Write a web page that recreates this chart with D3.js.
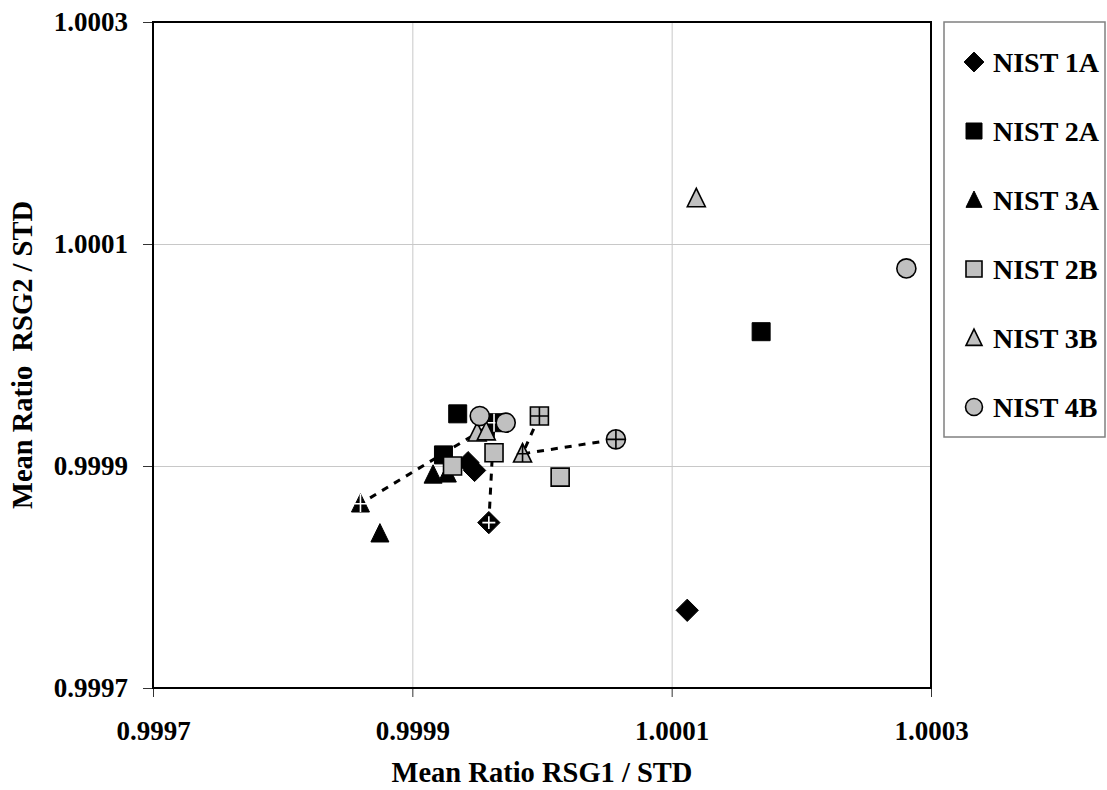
<!DOCTYPE html>
<html>
<head>
<meta charset="utf-8">
<script src="https://cdn.jsdelivr.net/npm/d3@7"></script>
<style>
  html, body { margin: 0; padding: 0; background: #fff; }
  svg text { font-family: "Times New Roman", "Liberation Serif", serif; font-weight: bold; fill: #000; }
</style>
</head>
<body>
<svg id="chart" width="1107" height="790"></svg>
<script>
// Axis ticks (shared by both axes)
const xTicks = [0.9997, 0.9999, 1.0001, 1.0003];
const yTicks = [0.9997, 0.9999, 1.0001, 1.0003];

const seriesNames = ["NIST 1A", "NIST 2A", "NIST 3A", "NIST 2B", "NIST 3B", "NIST 4B"];
const seriesShapes = ["diamond", "square", "triangle", "square", "triangle", "circle"];
const seriesFills = ["#000000", "#000000", "#000000", "#c0c0c0", "#c0c0c0", "#c0c0c0"];

// Individual measurements [RSG1/STD, RSG2/STD]
const nist1A = [[1.000112, 0.999770], [0.999943, 0.999903], [0.999948, 0.999896]];
const nist2A = [[0.999935, 0.999947], [1.000169, 1.000021], [0.999924, 0.999910]];
const nist3A = [[0.999875, 0.999839], [0.999916, 0.999892], [0.999927, 0.999893]];
const nist2B = [[0.999931, 0.999900], [0.999963, 0.999912], [1.000014, 0.999890]];
const nist3B = [[1.000119, 1.000141], [0.999950, 0.999930], [0.999957, 0.999931]];
const nist4B = [[1.000281, 1.000078], [0.999952, 0.999945], [0.999972, 0.999939]];

// Mean of each material [RSG1/STD, RSG2/STD]
const meanA = [[0.999959, 0.999849], [0.999963, 0.999939], [0.999860, 0.999866]]; // 1A, 2A, 3A
const meanB = [[0.999998, 0.999945], [0.999985, 0.999911], [1.000057, 0.999924]]; // 2B, 3B, 4B

const seriesData = [nist1A, nist2A, nist3A, nist2B, nist3B, nist4B];
const seriesMeans = [meanA[0], meanA[1], meanA[2], meanB[0], meanB[1], meanB[2]];

const svg = d3.select("#chart");
const plot = { left: 153, top: 22, right: 931, bottom: 688 };

const x = d3.scaleLinear().domain([0.9997, 1.0003]).range([plot.left, plot.right]);
const y = d3.scaleLinear().domain([0.9997, 1.0003]).range([plot.bottom, plot.top]);

// Gridlines
svg.append("g")
  .attr("transform", `translate(0,${plot.bottom})`)
  .call(d3.axisBottom(x).tickValues(xTicks.slice(1, -1)).tickSize(-(plot.bottom - plot.top)).tickFormat(""))
  .call(g => g.select(".domain").remove())
  .call(g => g.selectAll("line").attr("stroke", "#c8c8c8").attr("stroke-width", 1));
svg.append("g")
  .attr("transform", `translate(${plot.left},0)`)
  .call(d3.axisLeft(y).tickValues(yTicks.slice(1, -1)).tickSize(-(plot.right - plot.left)).tickFormat(""))
  .call(g => g.select(".domain").remove())
  .call(g => g.selectAll("line").attr("stroke", "#c8c8c8").attr("stroke-width", 1));

// Axes with outside ticks
const xAxis = svg.append("g")
  .attr("transform", `translate(0,${plot.bottom})`)
  .call(d3.axisBottom(x).tickValues(xTicks).tickSize(9).tickPadding(24).tickFormat(d3.format(".4f")));
const yAxis = svg.append("g")
  .attr("transform", `translate(${plot.left},0)`)
  .call(d3.axisLeft(y).tickValues(yTicks).tickSize(10).tickPadding(15).tickFormat(d3.format(".4f")));
[xAxis, yAxis].forEach(g => {
  g.select(".domain").remove();
  g.selectAll("line").attr("stroke", "#333").attr("stroke-width", 1);
  g.selectAll("text").style("font-size", "27px").style("font-family", "'Times New Roman','Liberation Serif',serif").style("font-weight", "bold");
});

// Plot frame
svg.append("rect")
  .attr("x", plot.left).attr("y", plot.top)
  .attr("width", plot.right - plot.left).attr("height", plot.bottom - plot.top)
  .attr("fill", "none").attr("stroke", "#000").attr("stroke-width", 2);

// Dashed links between the means
const link = d3.line().x(d => x(d[0])).y(d => y(d[1]));
svg.append("path").datum(meanA).attr("d", link)
  .attr("fill", "none").attr("stroke", "#000").attr("stroke-width", 3).attr("stroke-dasharray", "7,7");
svg.append("path").datum(meanB).attr("d", link)
  .attr("fill", "none").attr("stroke", "#000").attr("stroke-width", 3).attr("stroke-dasharray", "7,7");

// Marker shapes centred at the origin
function shapePath(shape, s) {
  const p = d3.path();
  if (shape === "square") {
    p.rect(-s / 2, -s / 2, s, s);
  } else if (shape === "diamond") {
    const r = s * 0.62;
    p.moveTo(0, -r); p.lineTo(r, 0); p.lineTo(0, r); p.lineTo(-r, 0); p.closePath();
  } else if (shape === "triangle") {
    const h = s * 1.02;
    p.moveTo(0, -h * 0.55); p.lineTo(s / 2, h * 0.45); p.lineTo(-s / 2, h * 0.45); p.closePath();
  } else {
    p.arc(0, 0, s * 0.53, 0, 2 * Math.PI);
  }
  return p.toString();
}

function crossPath(shape, s) {
  const p = d3.path();
  let v0, v1, hw;
  if (shape === "square") { v0 = -s / 2; v1 = s / 2; hw = s / 2; }
  else if (shape === "diamond") { v0 = -s * 0.36; v1 = s * 0.36; hw = s * 0.36; }
  else if (shape === "triangle") { v0 = -s * 0.56; v1 = s * 0.46; hw = s * 0.32; }
  else { v0 = -s * 0.53; v1 = s * 0.53; hw = s * 0.53; }
  p.moveTo(0, v0); p.lineTo(0, v1);
  p.moveTo(-hw, 0); p.lineTo(hw, 0);
  return p.toString();
}

const markerSize = 18;
function drawMarker(g, i, cx, cy, s, withCross) {
  const dark = seriesFills[i] === "#000000";
  g.append("path")
    .attr("transform", `translate(${cx},${cy})`)
    .attr("d", shapePath(seriesShapes[i], s))
    .attr("fill", seriesFills[i])
    .attr("stroke", "#000").attr("stroke-width", dark ? 1 : 1.6);
  if (withCross) {
    g.append("path")
      .attr("transform", `translate(${cx},${cy})`)
      .attr("d", crossPath(seriesShapes[i], s))
      .attr("fill", "none")
      .attr("stroke", dark ? "#fff" : "#000").attr("stroke-width", 1.6);
  }
}

// Points, series by series, each followed by its mean
const marks = svg.append("g");
seriesData.forEach((pts, i) => {
  pts.forEach(d => drawMarker(marks, i, x(d[0]), y(d[1]), markerSize, false));
  const m = seriesMeans[i];
  drawMarker(marks, i, x(m[0]), y(m[1]), markerSize, true);
});

// Legend
const legend = svg.append("g");
legend.append("rect")
  .attr("x", 944).attr("y", 22).attr("width", 161).attr("height", 415)
  .attr("fill", "#fff").attr("stroke", "#808080").attr("stroke-width", 1.5);
const legendY = d3.scalePoint().domain(seriesNames).range([62, 407]);
seriesNames.forEach((name, i) => {
  const ly = legendY(name);
  drawMarker(legend, i, 974, ly, 16, false);
  legend.append("text")
    .attr("x", 993).attr("y", ly + 9.5)
    .style("font-size", "28px")
    .text(name);
});

// Axis titles
svg.append("text")
  .attr("x", (plot.left + plot.right) / 2).attr("y", 782)
  .attr("text-anchor", "middle")
  .style("font-size", "28.5px")
  .text("Mean Ratio RSG1 / STD");
svg.append("text")
  .attr("transform", `translate(32,${(plot.top + plot.bottom) / 2}) rotate(-90)`)
  .attr("text-anchor", "middle")
  .style("font-size", "28.5px")
  .style("white-space", "pre")
  .attr("xml:space", "preserve")
  .text("Mean Ratio  RSG2 / STD");
</script>
</body>
</html>
